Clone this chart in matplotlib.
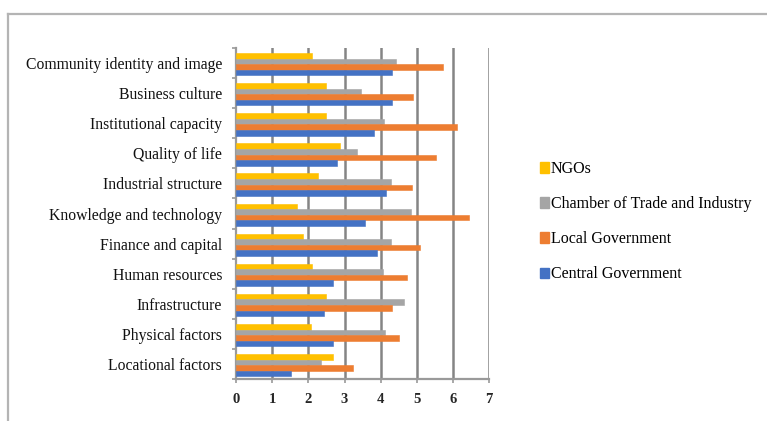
import matplotlib
matplotlib.use("Agg")
import matplotlib.pyplot as plt
from matplotlib.patches import Patch
from matplotlib.lines import Line2D
import numpy as np

# Factors, listed from bottom to top of the chart
categories = [
    "Locational factors",
    "Physical factors",
    "Infrastructure",
    "Human resources",
    "Finance and capital",
    "Knowledge and technology",
    "Industrial structure",
    "Quality of life",
    "Institutional capacity",
    "Business culture",
    "Community identity and image",
]

ngos = [2.69, 2.07, 2.48, 2.09, 1.86, 1.69, 2.27, 2.87, 2.48, 2.48, 2.09]
chamber = [2.35, 4.12, 4.64, 4.07, 4.28, 4.83, 4.28, 3.35, 4.09, 3.45, 4.41]
local_gov = [3.24, 4.50, 4.30, 4.73, 5.08, 6.44, 4.85, 5.52, 6.12, 4.88, 5.73]
central_gov = [1.52, 2.69, 2.44, 2.69, 3.89, 3.56, 4.14, 2.80, 3.81, 4.30, 4.30]

series = [
    ("NGOs", ngos, "#FFC000"),
    ("Chamber of Trade and Industry", chamber, "#A5A5A5"),
    ("Local Government", local_gov, "#ED7D31"),
    ("Central Government", central_gov, "#4472C4"),
]
x_ticks = [0, 1, 2, 3, 4, 5, 6, 7]

W, H = 767, 421
fig = plt.figure(figsize=(W / 100, H / 100), dpi=100)
fig.patch.set_facecolor("white")

serif = ["Liberation Serif", "DejaVu Serif"]

# Outer chart frame (top and left edges)
frame_col = "#b4b4b4"
fig.add_artist(Line2D([8 / W, 1.0], [1 - 14 / H, 1 - 14 / H], transform=fig.transFigure,
                      color=frame_col, lw=1.6))
fig.add_artist(Line2D([8 / W, 8 / W], [1 - 14 / H, 0.0], transform=fig.transFigure,
                      color=frame_col, lw=1.6))

left, right = 236 / W, 489.3 / W
bottom, top = 1 - 379 / H, 1 - 48 / H
ax = fig.add_axes([left, bottom, right - left, top - bottom])

n = len(categories)
y = np.arange(n)
bar_h = 0.185
offsets = [1.5, 0.5, -0.5, -1.5]  # NGOs on top, Central Government at the bottom
for (name, vals, col), off in zip(series, offsets):
    ax.barh(y + off * bar_h - 0.04, vals, height=bar_h, color=col,
            edgecolor=col, linewidth=0.4, zorder=3, label=name)

ax.set_xlim(0, 7)
ax.set_ylim(-0.5, n - 0.5)

grid_col = "#858585"
for t in x_ticks[1:]:
    ax.axvline(t, color=grid_col, lw=1.8, zorder=1)

for s in ["top", "right"]:
    ax.spines[s].set_visible(False)
ax.spines["left"].set_color("#9a9a9a")
ax.spines["left"].set_linewidth(1.6)
ax.spines["bottom"].set_color("#9a9a9a")
ax.spines["bottom"].set_linewidth(1.6)

ax.set_xticks(x_ticks)
ax.set_xticklabels([str(t) for t in x_ticks], family=serif, fontsize=10.5,
                   fontweight="bold", color="#262626")
ax.tick_params(axis="x", length=3, width=1.2, color="#9a9a9a", pad=7)

ax.set_yticks(y)
ax.set_yticklabels(categories, family=serif, fontsize=11.3, color="#111111")
ax.tick_params(axis="y", which="major", length=0, pad=10)
ax.set_yticks(np.arange(n + 1) - 0.5, minor=True)
ax.tick_params(axis="y", which="minor", length=3, width=1.2, color="#9a9a9a")

handles = [Patch(facecolor=c, edgecolor=c) for _, _, c in series]
labels = [nm for nm, _, _ in series]
fig.legend(handles, labels, loc="upper left",
           bbox_to_anchor=(540 / W, 1 - 161 / H), bbox_transform=fig.transFigure,
           frameon=False, prop={"family": serif, "size": 11.5},
           handlelength=0.55, handleheight=0.65, handletextpad=0.12,
           labelspacing=1.2, borderpad=0, borderaxespad=0)

fig.savefig("out.png", dpi=100, facecolor="white")
